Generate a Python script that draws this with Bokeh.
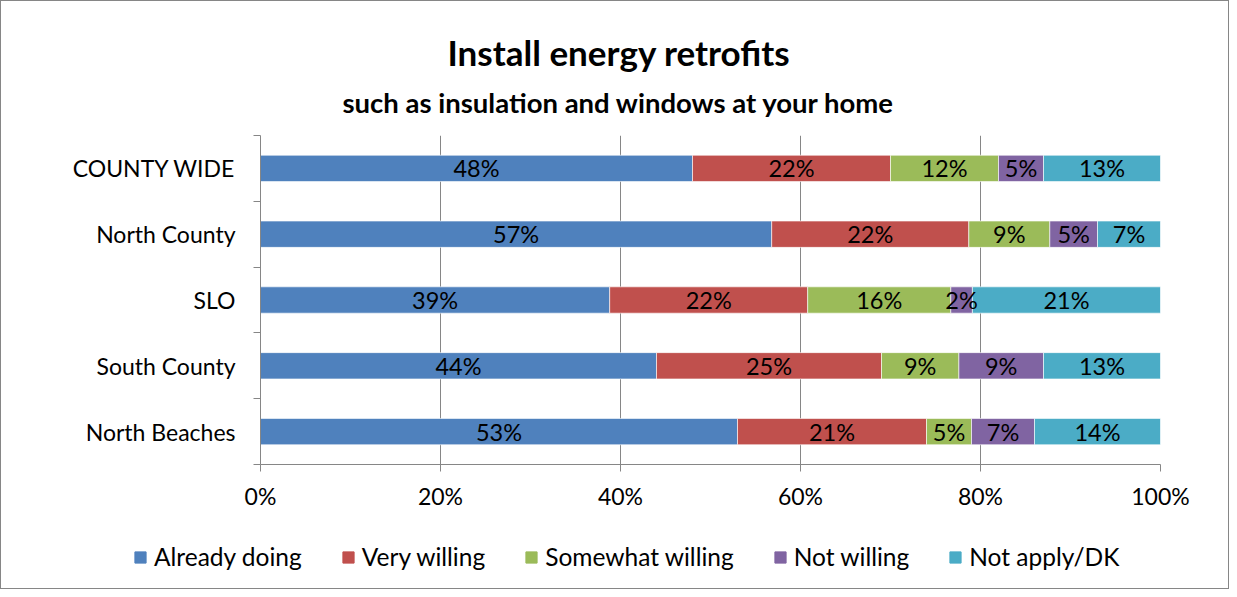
from bokeh.plotting import figure
from bokeh.layouts import column
from bokeh.models import (Range1d, FixedTicker, PrintfTickFormatter, Title,
                          ColumnDataSource, InlineStyleSheet)
from bokeh.core.properties import value
from bokeh.embed import file_html
from bokeh.resources import INLINE
import numpy as np

# ---- data ----
categories = ["COUNTY WIDE", "North County", "SLO", "South County", "North Beaches"]
series = ["Already doing", "Very willing", "Somewhat willing", "Not willing", "Not apply/DK"]
already_doing = [48, 56.8, 38.8, 44, 53]
very_willing = [22, 21.9, 22.0, 25, 21]
somewhat_willing = [12, 9.0, 15.9, 8.6, 5]
not_willing = [5, 5.3, 2.4, 9.4, 7]
not_apply = [13, 7.0, 20.9, 13, 14]
x_ticks = [0, 20, 40, 60, 80, 100]

colors = ["#4F81BD", "#C0504D", "#9BBB59", "#8064A2", "#4BACC6"]
FONT = "Lato"
GRAY = "#868686"

W = 1229
H_MAIN, H_LEG = 519, 70
ML, MR, MT, MB = 260, 69, 135, 55

n = len(categories)
ypos = [n - 0.5 - i for i in range(n)]  # top-to-bottom

p = figure(width=W, height=H_MAIN, output_backend="svg", toolbar_location=None,
           x_range=Range1d(0, 100), y_range=Range1d(0, n),
           min_border_left=ML, min_border_right=MR,
           min_border_top=MT, min_border_bottom=MB,
           background_fill_color="white", border_fill_color="white")
p.outline_line_color = None
p.frame_align = False

keys = ["a", "b", "c", "d", "e"]
data = dict(y=ypos)
for k, vals in zip(keys, [already_doing, very_willing, somewhat_willing, not_willing, not_apply]):
    data[k] = vals
src = ColumnDataSource(data)

p.hbar_stack(keys, y="y", height=0.4, color=colors, source=src,
             line_color="white", line_width=1, line_alpha=0.6)

# percent labels
arr = np.array([already_doing, very_willing, somewhat_willing, not_willing, not_apply], dtype=float)
cum = np.cumsum(arr, axis=0)
lefts = cum - arr
xs, ys, txt = [], [], []
for s in range(arr.shape[0]):
    for c in range(n):
        xs.append((lefts[s, c] + cum[s, c]) / 2)
        ys.append(ypos[c])
        txt.append(f"{int(round(arr[s, c]))}%")
p.text(x=xs, y=ys, text=txt, text_align="center", text_baseline="middle",
       text_font=value(FONT), text_font_size="23.5px", text_color="black")

# x axis
p.xaxis.ticker = FixedTicker(ticks=x_ticks)
p.xaxis.formatter = PrintfTickFormatter(format="%d%%")
p.xaxis.axis_line_color = GRAY
p.xaxis.major_tick_line_color = GRAY
p.xaxis.major_tick_out = 7
p.xaxis.major_tick_in = 0
p.xaxis.minor_tick_line_color = None
p.xaxis.major_label_standoff = 10
p.xaxis.major_label_text_font = FONT
p.xaxis.major_label_text_font_size = "23px"
p.xaxis.major_label_text_color = "black"

# y axis
p.yaxis.ticker = FixedTicker(ticks=ypos, minor_ticks=list(range(n + 1)))
p.yaxis.major_label_overrides = {y: c for y, c in zip(ypos, categories)}
p.yaxis.axis_line_color = GRAY
p.yaxis.major_tick_line_color = None
p.yaxis.major_tick_out = 0
p.yaxis.major_tick_in = 0
p.yaxis.minor_tick_line_color = GRAY
p.yaxis.minor_tick_out = 7
p.yaxis.minor_tick_in = 0
p.yaxis.major_label_standoff = 18
p.yaxis.major_label_text_font = FONT
p.yaxis.major_label_text_font_size = "23px"
p.yaxis.major_label_text_color = "black"

p.xgrid.grid_line_color = GRAY
p.ygrid.grid_line_color = None

# titles
p.add_layout(Title(text="such as insulation and windows at your home", align="left",
                   offset=82, text_font=FONT, text_font_size="27.5px",
                   text_font_style="bold", text_color="black", standoff=34), "above")
p.add_layout(Title(text="Install energy retrofits", align="left",
                   offset=187, text_font=FONT, text_font_size="35px",
                   text_font_style="bold", text_color="black", standoff=-12), "above")

# legend strip (separate figure below the chart)
pl = figure(width=W, height=H_LEG, output_backend="svg", toolbar_location=None,
            x_range=Range1d(0, 1), y_range=Range1d(0, 1),
            x_axis_location=None, y_axis_location=None, min_border=0,
            background_fill_color="white", border_fill_color="white")
pl.outline_line_color = None
pl.frame_align = False
pl.xgrid.grid_line_color = None
pl.ygrid.grid_line_color = None
rs = pl.hbar_stack(keys, y="y", height=0.4, color=colors, source=src,
                   legend_label=series)
for r in rs:
    r.visible = False

lg = pl.legend[0]
lg.orientation = "horizontal"
lg.location = (133, 18)
lg.padding = 0
lg.margin = 0
lg.spacing = 39
lg.border_line_color = None
lg.background_fill_alpha = 0
lg.inactive_fill_alpha = 0
lg.glyph_width = 14
lg.glyph_height = 14
lg.label_standoff = 7
lg.label_text_font = FONT
lg.label_text_font_size = "24.5px"
lg.label_text_color = "black"

layout = column(p, pl, spacing=0)
layout.stylesheets = [InlineStyleSheet(css=(
    ":host { position: relative; }"
    ":host::after { content: ''; position: absolute; left: 0; top: 0; right: 0; bottom: 0;"
    " border: 1px solid #868686; pointer-events: none; z-index: 1000; }"))]

open("out.html", "w").write(file_html(layout, INLINE))
